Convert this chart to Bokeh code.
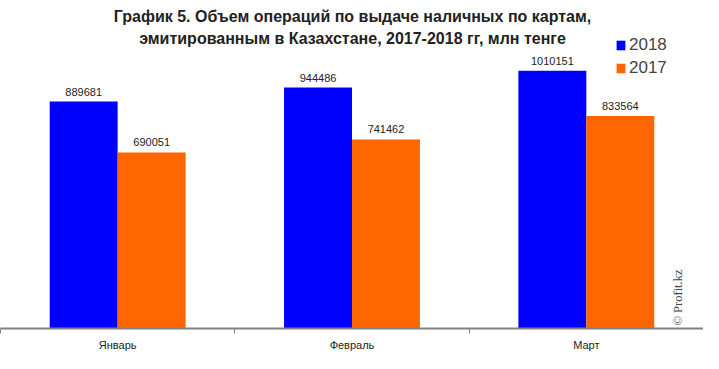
import math
from bokeh.plotting import figure
from bokeh.models import (FactorRange, Range1d, LinearAxis, FixedTicker,
                          ColumnDataSource, Label, Legend, LegendItem)
from bokeh.transform import dodge
from bokeh.core.properties import value
from bokeh.embed import file_html
from bokeh.resources import INLINE

months = ["Январь", "Февраль", "Март"]
vals_2018 = [889681, 944486, 1010151]
vals_2017 = [690051, 741462, 833564]
series_names = ["2018", "2017"]
title_lines = ["График 5. Объем операций по выдаче наличных по картам,",
               "эмитированным в Казахстане, 2017-2018 гг, млн тенге"]
credit = "© Profit.kz"

BLUE = "#0000FF"
ORANGE = "#FF6600"
NARROW = "Liberation Sans Narrow, Arial Narrow, Liberation Sans, sans-serif"

src = ColumnDataSource(dict(m=months, v18=vals_2018, v17=vals_2017,
                            t18=[str(v) for v in vals_2018],
                            t17=[str(v) for v in vals_2017]))

Y_END = 1286000
p = figure(width=703, height=353, x_range=FactorRange(*months, range_padding=0),
           y_range=Range1d(0, Y_END), output_backend="svg", toolbar_location=None,
           x_axis_location=None, y_axis_location=None, min_border=0,
           min_border_left=0, min_border_right=0, min_border_top=0, min_border_bottom=0)
p.outline_line_color = None
p.xgrid.visible = False
p.ygrid.visible = False
p.background_fill_color = "white"
p.border_fill_color = "white"

# category centres (synthetic coords) carry the labels, boundaries carry the tick marks
centres = [i + 0.5 for i in range(len(months))]
boundaries = list(range(len(months) + 1))
xaxis = LinearAxis(ticker=FixedTicker(ticks=centres, minor_ticks=boundaries),
                   major_label_overrides={c: m for c, m in zip(centres, months)},
                   axis_label=None, axis_label_standoff=0,
                   axis_line_color="#808080", axis_line_width=2,
                   major_tick_out=0, major_tick_in=0,
                   minor_tick_line_color="#808080", minor_tick_line_width=1,
                   minor_tick_out=5, minor_tick_in=0,
                   major_label_text_font=NARROW, major_label_text_font_size="11px",
                   major_label_text_color="#222222", major_label_standoff=5)
p.add_layout(xaxis, "below")

w = 0.29
r18 = p.vbar(x=dodge("m", -0.145, range=p.x_range), top="v18", width=w, source=src,
             fill_color=BLUE, line_color=None)
r17 = p.vbar(x=dodge("m", 0.145, range=p.x_range), top="v17", width=w, source=src,
             fill_color=ORANGE, line_color=None)

for col, off in (("t18", -0.145), ("t17", 0.145)):
    p.text(x=dodge("m", off, range=p.x_range), y=col.replace("t", "v"), text=col, source=src,
           text_align="center", text_baseline="bottom", y_offset=-6,
           text_font=value(NARROW), text_font_size="11px", text_color="#222222")

# texts placed from the top of the frame
for line, dy in zip(title_lines, [16, 38]):
    p.add_layout(Label(x=352, y=Y_END, x_units="screen", y_units="data", y_offset=-dy,
                       text=line, text_align="center", text_baseline="middle",
                       text_font=NARROW, text_font_size="16px", text_font_style="bold",
                       text_color="#222222"))

p.add_layout(Label(x=677, y=3, x_units="screen", y_units="screen", text=credit,
                   angle=math.pi / 2, text_align="left", text_baseline="middle",
                   text_font="Liberation Serif, Times New Roman, serif",
                   text_font_size="12.5px", text_color="#444444"))

legend = Legend(items=[LegendItem(label=series_names[0], renderers=[r18]),
                       LegendItem(label=series_names[1], renderers=[r17])],
                location=(615, 250), orientation="vertical",
                glyph_width=11, glyph_height=12, label_text_font_size="17px",
                label_text_font="Liberation Sans, Arial, sans-serif",
                label_standoff=3, spacing=3, padding=0, margin=0,
                border_line_color=None, background_fill_alpha=0)
p.add_layout(legend, "center")

open("out.html", "w").write(file_html(p, INLINE))
